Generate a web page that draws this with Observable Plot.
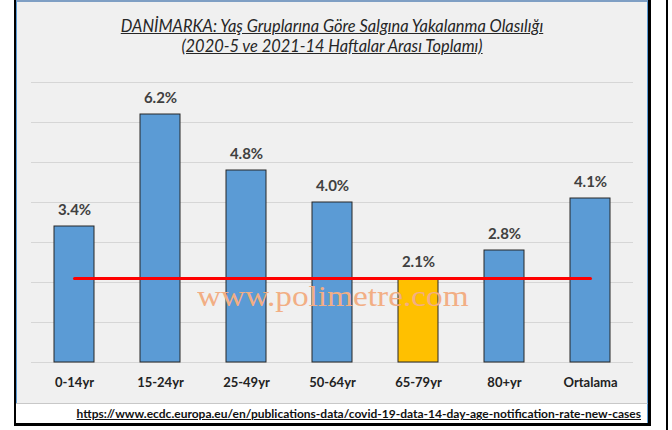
<!DOCTYPE html>
<html>
<head>
<meta charset="utf-8">
<script src="https://cdn.jsdelivr.net/npm/d3@7"></script>
<script src="https://cdn.jsdelivr.net/npm/@observablehq/plot@0.6"></script>
<style>
  html, body { margin: 0; padding: 0; }
  body { width: 672px; height: 430px; background: #fff; position: relative; overflow: hidden; font-family: Lato, "Open Sans", sans-serif; }
  #edge { position: absolute; left: 666px; top: 0; width: 2px; height: 430px; background: #000; }
  #frame { position: absolute; left: 14px; top: 0; width: 632px; height: 423px; border-left: 2px solid #000; border-right: 3px solid #000; border-bottom: 3px solid #000; }
  #inner { position: absolute; left: 0; top: 0; width: 632px; height: 403px; box-sizing: border-box; background: #f0f0f0; border-top: 2px solid #7f9fc4; border-left: 1px solid #5b9bd5; border-right: 1px solid #5b9bd5; }
  #strip { position: absolute; left: 0; top: 403px; width: 632px; height: 20px; box-sizing: border-box; background: #fff; border-top: 1px solid #c8c8c8; border-right: 1px solid #5b9bd5; }
  #title { position: absolute; left: 17px; width: 630px; top: 16px; text-align: center; font-family: Lato, sans-serif; font-style: italic; font-size: 16.4px; line-height: 20px; color: #262626; }
  #title span { text-decoration: underline; }
  #source { position: absolute; right: 31px; top: 404px; height: 19px; line-height: 19px; font-family: Lato, sans-serif; font-weight: bold; font-size: 12px; color: #111; text-decoration: underline; white-space: nowrap; }
  #chart { position: absolute; left: 0; top: 60px; }
  #watermark { position: absolute; left: 197px; top: 281px; font-family: "Liberation Serif", "DejaVu Serif", serif; font-size: 30px; line-height: 1; color: #f2ae84; white-space: nowrap; pointer-events: none; transform: scaleX(1.11); transform-origin: 0 0; }
  #chart g[aria-label^="x-axis"] text { font-weight: bold; font-size: 13px; fill: #222; font-family: Lato, sans-serif; }
</style>
</head>
<body>
<div id="edge"></div>
<div id="frame">
  <div id="inner"></div>
  <div id="strip"></div>
</div>
<div id="title"><span>DANİMARKA: Yaş Gruplarına Göre Salgına Yakalanma Olasılığı</span><br><span>(2020-5 ve 2021-14 Haftalar Arası Toplamı)</span></div>
<div id="chart"></div>
<div id="watermark">www.polimetre.com</div>
<div id="source">https://www.ecdc.europa.eu/en/publications-data/covid-19-data-14-day-age-notification-rate-new-cases</div>
<script>
// ---- data ----
const categories = ["0-14yr", "15-24yr", "25-49yr", "50-64yr", "65-79yr", "80+yr", "Ortalama"];
const values = [3.4, 6.2, 4.8, 4.0, 2.1, 2.8, 4.1];
const valueLabels = ["3.4%", "6.2%", "4.8%", "4.0%", "2.1%", "2.8%", "4.1%"];
const highlighted = "65-79yr";
const referenceValue = 2.1;
const gridTicks = [0, 1, 2, 3, 4, 5, 6, 7];

const rows = categories.map((c, i) => ({cat: c, value: values[i], label: valueLabels[i]}));
const refLine = [
  {cat: categories[0], value: referenceValue},
  {cat: categories[categories.length - 1], value: referenceValue}
];

const chart = Plot.plot({
  width: 672,
  height: 340,
  marginLeft: 31,
  marginRight: 39,
  marginTop: 22,
  marginBottom: 38,
  style: {background: "transparent", fontFamily: "Lato, sans-serif", overflow: "visible"},
  x: {domain: categories, paddingInner: 0.54, paddingOuter: 0.27, label: null, tickSize: 0, tickPadding: 15},
  y: {domain: [0, 7], axis: null},
  marks: [
    Plot.gridY(gridTicks, {stroke: "#d6d6d6", strokeOpacity: 1, strokeWidth: 1}),
    Plot.barY(rows, {filter: d => d.cat !== highlighted, x: "cat", y: "value", fill: "#5b9bd5", stroke: "#262626", strokeWidth: 1}),
    Plot.barY(rows, {filter: d => d.cat === highlighted, x: "cat", y: "value", fill: "#ffc000", stroke: "#262626", strokeWidth: 1}),
    Plot.line(refLine, {x: "cat", y: "value", stroke: "#ff0000", strokeWidth: 3}),
    Plot.text(rows, {x: "cat", y: "value", text: "label", dy: -16, fontSize: 15, fontWeight: "bold", fill: "#404040"})
  ]
});
document.getElementById("chart").appendChild(chart);
</script>
</body>
</html>
